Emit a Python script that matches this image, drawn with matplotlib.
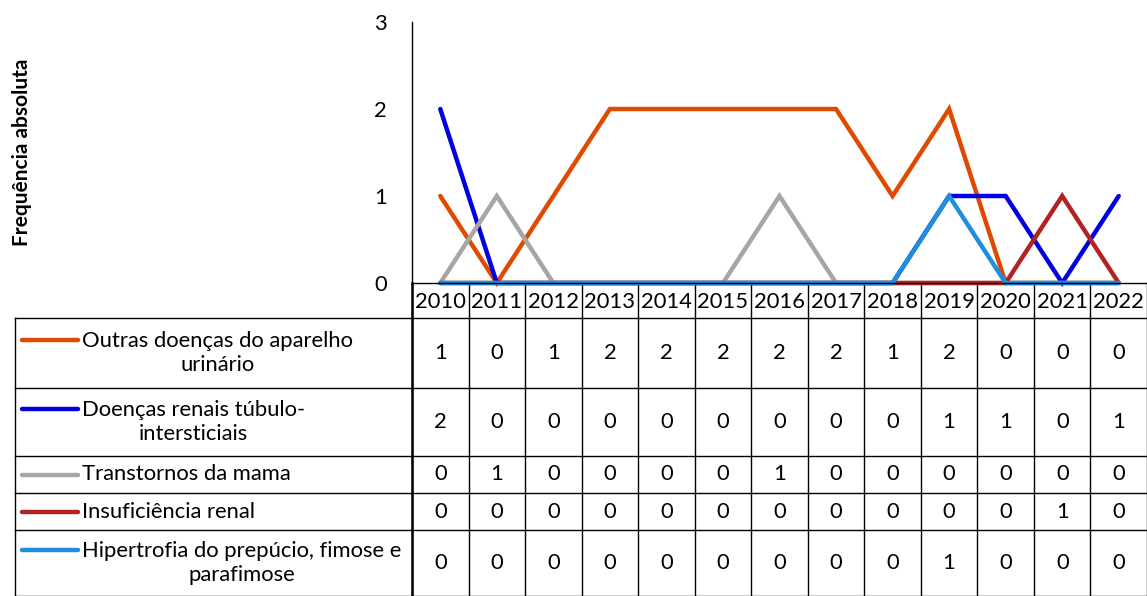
import matplotlib.pyplot as plt
from matplotlib.lines import Line2D

plt.rcParams['font.family'] = ['Lato', 'DejaVu Sans']

years = ["2010", "2011", "2012", "2013", "2014", "2015", "2016",
         "2017", "2018", "2019", "2020", "2021", "2022"]
series_names = [
    "Outras doenças do aparelho\nurinário",
    "Doenças renais túbulo-\nintersticiais",
    "Transtornos da mama",
    "Insuficiência renal",
    "Hipertrofia do prepúcio, fimose e\nparafimose",
]
outras = [1, 0, 1, 2, 2, 2, 2, 2, 1, 2, 0, 0, 0]
renais = [2, 0, 0, 0, 0, 0, 0, 0, 0, 1, 1, 0, 1]
mama = [0, 1, 0, 0, 0, 0, 1, 0, 0, 0, 0, 0, 0]
insuf = [0, 0, 0, 0, 0, 0, 0, 0, 0, 0, 0, 1, 0]
hipert = [0, 0, 0, 0, 0, 0, 0, 0, 0, 1, 0, 0, 0]
all_series = [outras, renais, mama, insuf, hipert]
colors = ["#E04A00", "#0000E0", "#A6A6A6", "#B22222", "#1F8FDD"]

W, H = 1147, 596
fig = plt.figure(figsize=(W / 100, H / 100), dpi=100)
FS = 15.8

# layout in pixels
x0, x1 = 412, 1147
y_top, y_zero = 22, 283
ncol = len(years)
colw = (x1 - x0) / ncol

ax = fig.add_axes([x0 / W, 1 - y_zero / H, (x1 - x0) / W, (y_zero - y_top) / H])
xs = list(range(ncol))
for vals, c in zip(all_series, colors):
    ax.plot(xs, vals, color=c, linewidth=3.2, solid_capstyle="round",
            solid_joinstyle="miter", clip_on=False)
ax.set_xlim(-0.5, ncol - 0.5)
ax.set_ylim(0, 3)
ax.set_yticks([0, 1, 2, 3])
ax.set_xticks([])
ax.tick_params(axis="y", length=0, pad=18, labelsize=FS)
for s in ["top", "right"]:
    ax.spines[s].set_visible(False)
ax.spines["left"].set_linewidth(1.0)
ax.spines["bottom"].set_linewidth(1.0)
ax.patch.set_alpha(0)

fig.text(22 / W, 1 - 152 / H, "Frequência absoluta", rotation=90,
         ha="center", va="center", fontsize=15, fontweight="bold")

# table overlay in pixel coordinates
tb = fig.add_axes([0, 0, 1, 1], zorder=-1)
tb.set_xlim(0, W)
tb.set_ylim(H, 0)
tb.axis("off")

row_edges = [318, 388, 456, 493, 530, 596]
lk = dict(color="black", linewidth=1.0)

# year header row
for i, yr in enumerate(years):
    tb.text(x0 + colw * (i + 0.5), 302, yr, ha="center", va="center", fontsize=FS)
for i in range(ncol + 1):
    tb.add_line(Line2D([x0 + colw * i] * 2, [y_zero, H], **lk))
for y in row_edges:
    tb.add_line(Line2D([15, W], [y, y], **lk))
tb.add_line(Line2D([15, 15], [row_edges[0], H], **lk))
tb.add_line(Line2D([x0, x0], [y_zero, H], color="black", linewidth=1.8))

for r, (name, vals, c) in enumerate(zip(series_names, all_series, colors)):
    ytop, ybot = row_edges[r], row_edges[r + 1]
    yc = (ytop + ybot) / 2
    nlines = name.count("\n") + 1
    ykey = yc - (nlines - 1) * 13.5
    tb.add_line(Line2D([22, 78], [ykey, ykey], color=c, linewidth=3.2,
                       solid_capstyle="round"))
    tb.text(82, yc, name, ha="left", va="center", multialignment="center",
            fontsize=FS, linespacing=1.2)
    for i, v in enumerate(vals):
        tb.text(x0 + colw * (i + 0.5), yc, str(v), ha="center", va="center",
                fontsize=FS)

fig.savefig("out.png", dpi=100)
